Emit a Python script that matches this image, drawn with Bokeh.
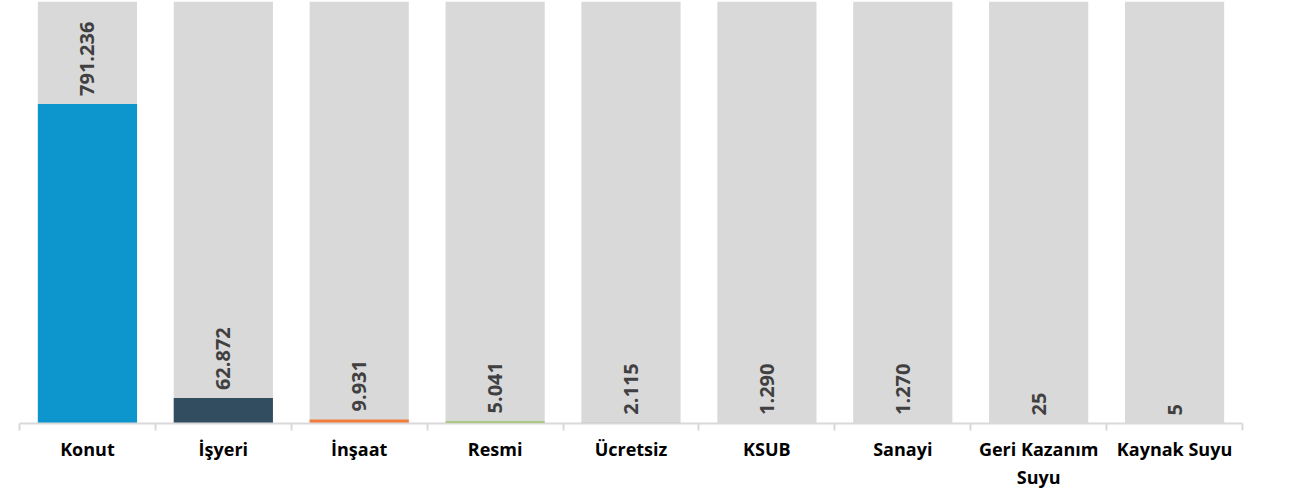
from bokeh.plotting import figure
from bokeh.models import (ColumnDataSource, Range1d, LinearAxis,
                          FixedTicker, LabelSet)
from bokeh.core.properties import value
from bokeh.embed import file_html
from bokeh.resources import INLINE

categories = ["Konut", "İşyeri", "İnşaat", "Resmi", "Ücretsiz", "KSUB",
              "Sanayi", "Geri Kazanım\nSuyu", "Kaynak Suyu"]
values = [791236, 62872, 9931, 5041, 2115, 1290, 1270, 25, 5]
value_labels = ["791.236", "62.872", "9.931", "5.041", "2.115", "1.290",
                "1.270", "25", "5"]
colors = ["#0C96CD", "#324D5F", "#F07D3C", "#7CBB2E", "#9C7D9E", "#5B6B8C",
          "#B0B0B0", "#7F7F7F", "#A5A5A5"]
background_max = 1045000
background = [background_max] * len(categories)

n = len(categories)
xpos = [i + 0.5 for i in range(n)]
bounds = list(range(n + 1))
src = ColumnDataSource(dict(x=xpos, val=values, lab=value_labels,
                            col=colors, bg=background))

p = figure(x_range=Range1d(0, n), y_range=Range1d(0, background_max),
           width=1272, height=492, output_backend="svg",
           toolbar_location=None, x_axis_location=None, y_axis_location=None,
           min_border_left=19, min_border_right=30, min_border_top=1,
           min_border_bottom=0)
p.outline_line_color = None
p.xgrid.visible = False
p.ygrid.visible = False
p.background_fill_color = "white"

p.vbar(x="x", top="bg", width=0.73, source=src, color="#D9D9D9",
       line_color=None)
p.vbar(x="x", top="val", width=0.73, source=src, fill_color="col",
       line_color=None)

labels = LabelSet(x="x", y="val", text="lab", source=src, angle=1.5708,
                  text_align="left", text_baseline="middle", y_offset=8,
                  text_font=value("Open Sans"), text_font_style="bold",
                  text_font_size="20px", text_color="#404040")
p.add_layout(labels)

axis = LinearAxis(ticker=FixedTicker(ticks=xpos, minor_ticks=bounds),
                  major_label_overrides={x: c for x, c in zip(xpos, categories)},
                  axis_line_color="#D9D9D9", axis_line_width=2,
                  major_tick_line_color=None, major_tick_in=0,
                  major_tick_out=7,
                  minor_tick_line_color="#D9D9D9", minor_tick_line_width=2,
                  minor_tick_in=0, minor_tick_out=7,
                  major_label_text_font="Open Sans",
                  major_label_text_font_style="bold",
                  major_label_text_font_size="18px",
                  major_label_text_color="#000000",
                  major_label_standoff=6)
p.add_layout(axis, "below")

open("out.html", "w").write(file_html(p, INLINE))
